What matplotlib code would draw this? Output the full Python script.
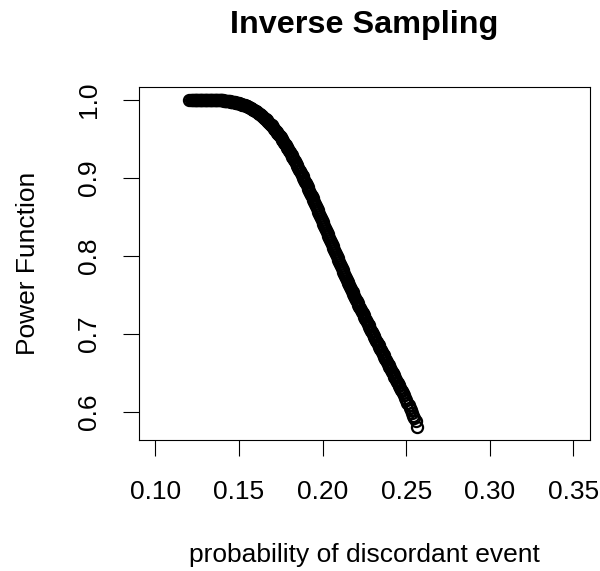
import matplotlib
matplotlib.use("Agg")
import matplotlib.pyplot as plt

plt.rcParams['font.family'] = ['Liberation Sans', 'DejaVu Sans']

title = "Inverse Sampling"
x_label = "probability of discordant event"
y_label = "Power Function"
x_ticks = [0.10, 0.15, 0.20, 0.25, 0.30, 0.35]
x_tick_labels = ["0.10", "0.15", "0.20", "0.25", "0.30", "0.35"]
y_ticks = [0.6, 0.7, 0.8, 0.9, 1.0]
y_tick_labels = ["0.6", "0.7", "0.8", "0.9", "1.0"]
x_range = [0.10, 0.35]

discordant_prob = [
    0.1200, 0.1212, 0.1220, 0.1225, 0.1230, 0.1235, 0.1240, 0.1245, 0.1250,
    0.1255, 0.1260, 0.1265, 0.1270, 0.1275, 0.1280, 0.1285, 0.1290, 0.1295, 0.1300,
    0.1305, 0.1310, 0.1315, 0.1320, 0.1325, 0.1330, 0.1335, 0.1340, 0.1345, 0.1350,
    0.1355, 0.1360, 0.1365, 0.1370, 0.1375, 0.1380, 0.1385, 0.1390, 0.1395, 0.1400,
    0.1405, 0.1410, 0.1415, 0.1420, 0.1425, 0.1430, 0.1435, 0.1440, 0.1445, 0.1450,
    0.1455, 0.1460, 0.1465, 0.1470, 0.1475, 0.1480, 0.1485, 0.1490, 0.1495, 0.1500,
    0.1505, 0.1510, 0.1515, 0.1520, 0.1525, 0.1530, 0.1535, 0.1540, 0.1545, 0.1550,
    0.1555, 0.1560, 0.1565, 0.1570, 0.1575, 0.1580, 0.1585, 0.1590, 0.1595, 0.1600,
    0.1605, 0.1610, 0.1615, 0.1620, 0.1625, 0.1630, 0.1635, 0.1640, 0.1645, 0.1650,
    0.1655, 0.1660, 0.1665, 0.1670, 0.1675, 0.1680, 0.1685, 0.1690, 0.1695, 0.1700,
    0.1705, 0.1710, 0.1715, 0.1720, 0.1725, 0.1730, 0.1735, 0.1740, 0.1745, 0.1750,
    0.1755, 0.1760, 0.1765, 0.1770, 0.1775, 0.1780, 0.1785, 0.1790, 0.1795, 0.1800,
    0.1805, 0.1810, 0.1815, 0.1820, 0.1825, 0.1830, 0.1835, 0.1840, 0.1845, 0.1850,
    0.1855, 0.1860, 0.1865, 0.1870, 0.1875, 0.1880, 0.1885, 0.1890, 0.1895, 0.1900,
    0.1905, 0.1910, 0.1915, 0.1920, 0.1925, 0.1930, 0.1935, 0.1940, 0.1945, 0.1950,
    0.1955, 0.1960, 0.1965, 0.1970, 0.1975, 0.1980, 0.1985, 0.1990, 0.1995, 0.2000,
    0.2005, 0.2010, 0.2015, 0.2020, 0.2025, 0.2030, 0.2035, 0.2040, 0.2045, 0.2050,
    0.2055, 0.2060, 0.2065, 0.2070, 0.2075, 0.2080, 0.2085, 0.2090, 0.2095, 0.2100,
    0.2105, 0.2110, 0.2115, 0.2120, 0.2125, 0.2130, 0.2135, 0.2140, 0.2145, 0.2150,
    0.2155, 0.2160, 0.2165, 0.2170, 0.2175, 0.2180, 0.2185, 0.2190, 0.2195, 0.2200,
    0.2205, 0.2210, 0.2215, 0.2220, 0.2225, 0.2230, 0.2235, 0.2240, 0.2245, 0.2250,
    0.2255, 0.2260, 0.2265, 0.2270, 0.2275, 0.2280, 0.2285, 0.2290, 0.2295, 0.2300,
    0.2305, 0.2310, 0.2315, 0.2320, 0.2325, 0.2330, 0.2335, 0.2340, 0.2345, 0.2350,
    0.2355, 0.2360, 0.2365, 0.2370, 0.2375, 0.2380, 0.2385, 0.2390, 0.2395, 0.2400,
    0.2405, 0.2410, 0.2415, 0.2420, 0.2425, 0.2430, 0.2435, 0.2440, 0.2445, 0.2450,
    0.2455, 0.2460, 0.2465, 0.2470, 0.2475, 0.2480,
    0.2487, 0.2494, 0.2501, 0.2508, 0.2515, 0.2522, 0.2529, 0.2536, 0.2543, 0.2550,
    0.2558, 0.2567,
]

power = [
    1.0000, 1.0000, 1.0000, 1.0000, 1.0000, 1.0000, 1.0000, 1.0000, 1.0000,
    1.0000, 1.0000, 1.0000, 1.0000, 1.0000, 1.0000, 1.0000, 1.0000, 1.0000, 1.0000,
    1.0000, 1.0000, 0.9999, 0.9999, 0.9999, 0.9999, 0.9999, 0.9998, 0.9998, 0.9998,
    0.9997, 0.9997, 0.9996, 0.9996, 0.9995, 0.9994, 0.9994, 0.9993, 0.9993, 0.9992,
    0.9991, 0.9989, 0.9988, 0.9986, 0.9985, 0.9984, 0.9982, 0.9981, 0.9979, 0.9978,
    0.9976, 0.9973, 0.9971, 0.9969, 0.9967, 0.9964, 0.9962, 0.9960, 0.9957, 0.9955,
    0.9951, 0.9947, 0.9943, 0.9939, 0.9935, 0.9931, 0.9927, 0.9923, 0.9919, 0.9915,
    0.9909, 0.9903, 0.9897, 0.9891, 0.9885, 0.9879, 0.9873, 0.9867, 0.9861, 0.9855,
    0.9847, 0.9838, 0.9830, 0.9821, 0.9813, 0.9804, 0.9796, 0.9787, 0.9779, 0.9770,
    0.9759, 0.9748, 0.9737, 0.9726, 0.9715, 0.9704, 0.9693, 0.9682, 0.9671, 0.9660,
    0.9646, 0.9632, 0.9618, 0.9604, 0.9590, 0.9576, 0.9562, 0.9548, 0.9534, 0.9520,
    0.9503, 0.9486, 0.9469, 0.9452, 0.9435, 0.9418, 0.9401, 0.9384, 0.9367, 0.9350,
    0.9330, 0.9310, 0.9290, 0.9270, 0.9250, 0.9230, 0.9210, 0.9190, 0.9170, 0.9150,
    0.9128, 0.9106, 0.9084, 0.9062, 0.9040, 0.9018, 0.8996, 0.8974, 0.8952, 0.8930,
    0.8906, 0.8882, 0.8858, 0.8834, 0.8810, 0.8786, 0.8762, 0.8738, 0.8714, 0.8690,
    0.8665, 0.8640, 0.8615, 0.8590, 0.8565, 0.8540, 0.8515, 0.8490, 0.8465, 0.8440,
    0.8414, 0.8388, 0.8362, 0.8336, 0.8310, 0.8284, 0.8258, 0.8232, 0.8206, 0.8180,
    0.8154, 0.8128, 0.8102, 0.8076, 0.8050, 0.8024, 0.7998, 0.7972, 0.7946, 0.7920,
    0.7895, 0.7870, 0.7845, 0.7820, 0.7795, 0.7770, 0.7745, 0.7720, 0.7695, 0.7670,
    0.7647, 0.7624, 0.7601, 0.7578, 0.7555, 0.7532, 0.7509, 0.7486, 0.7463, 0.7440,
    0.7418, 0.7396, 0.7374, 0.7352, 0.7330, 0.7308, 0.7286, 0.7264, 0.7242, 0.7220,
    0.7198, 0.7176, 0.7154, 0.7132, 0.7110, 0.7088, 0.7066, 0.7044, 0.7022, 0.7000,
    0.6979, 0.6958, 0.6937, 0.6916, 0.6895, 0.6874, 0.6853, 0.6832, 0.6811, 0.6790,
    0.6769, 0.6748, 0.6727, 0.6706, 0.6685, 0.6664, 0.6643, 0.6622, 0.6601, 0.6580,
    0.6559, 0.6538, 0.6517, 0.6496, 0.6475, 0.6454, 0.6433, 0.6412, 0.6391, 0.6370,
    0.6349, 0.6328, 0.6307, 0.6286, 0.6265, 0.6244,
    0.6215, 0.6185, 0.6155, 0.6121, 0.6088, 0.6054, 0.6021, 0.5987, 0.5954, 0.5920,
    0.5880, 0.5810,
]

assert len(discordant_prob) == len(power)

W, H = 600, 571
fig = plt.figure(figsize=(W / 100, H / 100), dpi=100)
left, right, top, bottom = 138.7, 590.0, 86.7, 440.0
ax = fig.add_axes([left / W, 1 - bottom / H, (right - left) / W, (bottom - top) / H])

ax.plot(discordant_prob, power, linestyle='none', marker='o', markersize=8.0,
        markerfacecolor='none', markeredgecolor='black', markeredgewidth=1.6)

# R-style 4% axis expansion
xr = x_range[1] - x_range[0]
ax.set_xlim(x_range[0] - 0.04 * xr, x_range[1] + 0.04 * xr)
ymin, ymax = min(power), max(power)
yr = ymax - ymin
ax.set_ylim(ymin - 0.04 * yr, ymax + 0.04 * yr)

ax.set_xticks(x_ticks)
ax.set_xticklabels(x_tick_labels)
ax.set_yticks(y_ticks)
ax.set_yticklabels(y_tick_labels)

fs = 19.0
ax.tick_params(axis='both', direction='out', length=11.5, width=0.8,
               color='black', labelsize=fs, labelcolor='black')
ax.tick_params(axis='x', pad=17.0)
ax.tick_params(axis='y', pad=16.0)
for lbl in ax.get_yticklabels():
    lbl.set_rotation(90)
    lbl.set_va('center')
    lbl.set_ha('right')

for sp in ax.spines.values():
    sp.set_linewidth(0.8)
    sp.set_color('black')

ax.set_title(title, fontsize=23.3, fontweight='bold', y=(bottom - 33.3) / (bottom - top), pad=0)

ax.set_xlabel(x_label, fontsize=fs)
ax.xaxis.label.set_va('baseline')
ax.xaxis.set_label_coords(0.5, -(561.7 - bottom) / (bottom - top))

ax.set_ylabel(y_label, fontsize=fs, rotation=90)
ax.yaxis.label.set_rotation_mode('anchor')
ax.yaxis.label.set_va('baseline')
ax.yaxis.label.set_ha('center')
ax.yaxis.set_label_coords(-(left - 35.0) / (right - left), 0.5)

fig.savefig("out.png", dpi=100, facecolor='white')
